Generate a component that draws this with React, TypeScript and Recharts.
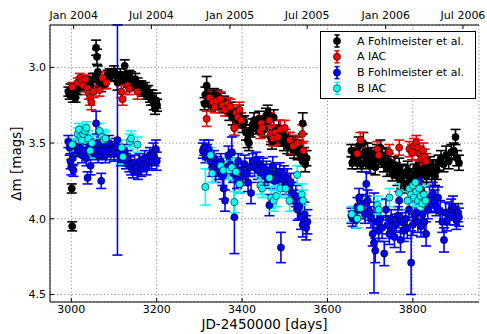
import React from 'react';
import { ScatterChart, Scatter, XAxis, YAxis, CartesianGrid, ErrorBar } from 'recharts';

type P = [number, number, number];

const aFohlmeister: P[] = [
  [2993, 3.16, 0.03], [2996, 3.18, 0.03], [2998, 3.15, 0.04], [3001, 3.80, 0.03], [3002, 4.05, 0.03],
  [3004, 3.19, 0.04], [3007, 3.17, 0.03], [3010, 3.20, 0.03], [3015, 3.14, 0.04], [3020, 3.12, 0.03],
  [3025, 3.10, 0.04], [3030, 3.13, 0.03], [3035, 3.09, 0.03], [3040, 3.11, 0.04], [3045, 3.12, 0.03],
  [3050, 3.08, 0.04], [3055, 3.07, 0.03], [3058, 2.87, 0.05], [3060, 2.93, 0.05], [3062, 3.03, 0.04],
  [3066, 3.10, 0.03], [3070, 3.12, 0.04], [3075, 3.09, 0.03], [3080, 3.11, 0.03], [3085, 3.05, 0.03],
  [3090, 3.04, 0.03], [3095, 3.05, 0.04], [3100, 3.03, 0.04], [3105, 3.06, 0.03], [3108, 3.10, 0.05],
  [3112, 3.07, 0.03], [3115, 3.05, 0.04], [3120, 3.08, 0.03], [3125, 2.99, 0.04], [3128, 3.06, 0.03],
  [3132, 3.09, 0.04], [3136, 3.05, 0.03], [3140, 3.08, 0.05], [3145, 3.10, 0.04], [3150, 3.08, 0.04],
  [3155, 3.11, 0.04], [3160, 3.13, 0.04], [3164, 3.12, 0.03], [3168, 3.15, 0.04], [3172, 3.14, 0.04],
  [3176, 3.17, 0.04], [3180, 3.16, 0.04], [3184, 3.19, 0.04], [3187, 3.21, 0.04], [3190, 3.20, 0.05],
  [3193, 3.24, 0.04], [3196, 3.27, 0.04], [3199, 3.22, 0.05], [3201, 3.25, 0.04],
  [3312, 3.24, 0.04], [3314, 3.18, 0.05], [3317, 3.12, 0.06], [3320, 3.22, 0.04], [3323, 3.19, 0.04],
  [3327, 3.25, 0.04], [3330, 3.20, 0.04], [3334, 3.18, 0.04], [3338, 3.22, 0.04], [3342, 3.19, 0.04],
  [3346, 3.24, 0.04], [3350, 3.21, 0.04], [3354, 3.26, 0.04], [3358, 3.23, 0.04], [3362, 3.25, 0.04],
  [3366, 3.28, 0.04], [3370, 3.30, 0.05], [3374, 3.27, 0.04], [3378, 3.33, 0.05], [3382, 3.40, 0.05],
  [3385, 3.31, 0.04], [3389, 3.35, 0.04], [3393, 3.30, 0.05], [3397, 3.34, 0.04], [3401, 3.38, 0.05],
  [3405, 3.36, 0.04], [3409, 3.43, 0.05], [3413, 3.48, 0.05], [3416, 3.50, 0.05], [3420, 3.42, 0.04],
  [3424, 3.38, 0.04], [3428, 3.35, 0.05], [3432, 3.40, 0.04], [3436, 3.37, 0.04], [3440, 3.34, 0.05],
  [3444, 3.39, 0.04], [3448, 3.36, 0.04], [3452, 3.41, 0.05], [3456, 3.32, 0.05], [3460, 3.30, 0.05],
  [3464, 3.34, 0.04], [3467, 3.46, 0.05], [3470, 3.49, 0.05], [3474, 3.33, 0.05], [3478, 3.42, 0.04],
  [3482, 3.45, 0.05], [3486, 3.40, 0.05], [3490, 3.47, 0.05], [3494, 3.44, 0.05], [3498, 3.50, 0.05],
  [3502, 3.46, 0.05], [3506, 3.52, 0.05], [3510, 3.48, 0.05], [3514, 3.53, 0.05], [3518, 3.50, 0.05],
  [3522, 3.55, 0.05], [3526, 3.51, 0.05], [3530, 3.56, 0.05], [3534, 3.53, 0.05], [3538, 3.60, 0.05],
  [3542, 3.37, 0.07], [3545, 3.58, 0.05], [3548, 3.64, 0.05], [3551, 3.60, 0.05],
  [3656, 3.55, 0.04], [3658, 3.63, 0.04], [3662, 3.60, 0.05], [3666, 3.56, 0.05], [3670, 3.62, 0.05],
  [3673, 3.52, 0.06], [3676, 3.58, 0.05], [3680, 3.64, 0.05], [3684, 3.50, 0.07], [3687, 3.56, 0.06],
  [3690, 3.62, 0.05], [3694, 3.55, 0.05], [3697, 3.60, 0.05], [3700, 3.65, 0.05], [3704, 3.58, 0.05],
  [3708, 3.62, 0.05], [3712, 3.66, 0.05], [3716, 3.56, 0.05], [3720, 3.61, 0.05], [3724, 3.53, 0.05],
  [3728, 3.59, 0.05], [3732, 3.64, 0.05], [3736, 3.58, 0.05], [3740, 3.67, 0.05], [3744, 3.62, 0.05],
  [3748, 3.66, 0.05], [3752, 3.70, 0.05], [3756, 3.64, 0.05], [3760, 3.68, 0.05], [3764, 3.72, 0.06],
  [3768, 3.66, 0.06], [3772, 3.74, 0.06], [3776, 3.70, 0.06], [3780, 3.77, 0.06], [3784, 3.71, 0.06],
  [3788, 3.68, 0.06], [3792, 3.75, 0.06], [3796, 3.73, 0.06], [3800, 3.79, 0.06], [3804, 3.70, 0.06],
  [3808, 3.66, 0.05], [3812, 3.72, 0.06], [3816, 3.68, 0.05], [3820, 3.81, 0.05], [3824, 3.70, 0.06],
  [3828, 3.66, 0.05], [3832, 3.72, 0.06], [3836, 3.68, 0.06], [3840, 3.64, 0.05], [3844, 3.70, 0.06],
  [3848, 3.66, 0.05], [3852, 3.72, 0.06], [3856, 3.68, 0.06], [3860, 3.63, 0.05], [3866, 3.60, 0.05],
  [3872, 3.64, 0.05], [3878, 3.58, 0.06], [3884, 3.62, 0.05], [3890, 3.56, 0.05], [3896, 3.55, 0.05],
  [3900, 3.46, 0.05], [3904, 3.60, 0.05], [3908, 3.63, 0.05],
];

const aIac: P[] = [
  [3002, 3.13, 0.03], [3015, 3.10, 0.03], [3020, 3.07, 0.03], [3025, 3.09, 0.03], [3028, 3.12, 0.04],
  [3033, 3.08, 0.03], [3038, 3.14, 0.04], [3041, 3.17, 0.04], [3044, 3.20, 0.05], [3047, 3.23, 0.05],
  [3052, 3.16, 0.04], [3066, 3.15, 0.04], [3073, 3.07, 0.04], [3082, 3.10, 0.04], [3117, 3.16, 0.04],
  [3120, 3.21, 0.04], [3132, 3.12, 0.04], [3136, 3.14, 0.04], [3155, 3.16, 0.05],
  [3317, 3.34, 0.05], [3324, 3.20, 0.04], [3331, 3.23, 0.04], [3336, 3.26, 0.04], [3341, 3.22, 0.04],
  [3349, 3.21, 0.05], [3354, 3.25, 0.04], [3360, 3.28, 0.04], [3366, 3.24, 0.04], [3372, 3.26, 0.05],
  [3382, 3.40, 0.05], [3386, 3.30, 0.05], [3390, 3.33, 0.05], [3394, 3.28, 0.05], [3398, 3.35, 0.05],
  [3443, 3.42, 0.05], [3445, 3.37, 0.05], [3447, 3.40, 0.05], [3464, 3.35, 0.05], [3468, 3.44, 0.05],
  [3473, 3.47, 0.05], [3478, 3.43, 0.05], [3484, 3.46, 0.05], [3490, 3.41, 0.06], [3500, 3.40, 0.05],
  [3512, 3.48, 0.05], [3520, 3.52, 0.05], [3530, 3.50, 0.05], [3541, 3.44, 0.06], [3544, 3.55, 0.06],
  [3670, 3.57, 0.04], [3677, 3.48, 0.05], [3717, 3.54, 0.05], [3720, 3.58, 0.05], [3745, 3.56, 0.05],
  [3768, 3.53, 0.05], [3792, 3.54, 0.05], [3798, 3.56, 0.05], [3803, 3.52, 0.05], [3808, 3.50, 0.05],
  [3812, 3.53, 0.05], [3816, 3.57, 0.05], [3820, 3.60, 0.05], [3824, 3.55, 0.05], [3828, 3.59, 0.05],
  [3831, 3.62, 0.05],
];

const bFohlmeister: P[] = [
  [2993, 3.49, 0.04], [2996, 3.53, 0.05], [2998, 3.62, 0.05], [3000, 3.66, 0.05], [3003, 3.60, 0.05],
  [3005, 3.68, 0.04], [3010, 3.52, 0.04], [3015, 3.55, 0.04], [3020, 3.53, 0.05], [3025, 3.58, 0.05],
  [3030, 3.55, 0.04], [3035, 3.60, 0.05], [3038, 3.73, 0.04], [3042, 3.52, 0.05], [3045, 3.65, 0.06],
  [3050, 3.56, 0.05], [3055, 3.54, 0.05], [3058, 3.37, 0.08], [3060, 3.50, 0.06], [3063, 3.58, 0.05],
  [3066, 3.55, 0.05], [3070, 3.75, 0.05], [3072, 3.55, 0.06], [3076, 3.52, 0.05], [3080, 3.58, 0.05],
  [3084, 3.55, 0.04], [3088, 3.50, 0.05], [3092, 3.56, 0.05], [3096, 3.54, 0.05], [3100, 3.57, 0.05],
  [3104, 3.52, 0.05], [3108, 3.48, 0.76], [3112, 3.56, 0.05], [3116, 3.60, 0.05], [3120, 3.58, 0.05],
  [3124, 3.55, 0.04], [3128, 3.62, 0.05], [3132, 3.60, 0.05], [3136, 3.64, 0.05], [3140, 3.66, 0.05],
  [3144, 3.68, 0.05], [3148, 3.63, 0.05], [3152, 3.66, 0.05], [3156, 3.69, 0.05], [3160, 3.62, 0.05],
  [3164, 3.67, 0.05], [3168, 3.64, 0.05], [3172, 3.60, 0.05], [3176, 3.66, 0.05], [3180, 3.63, 0.05],
  [3184, 3.58, 0.05], [3188, 3.62, 0.05], [3192, 3.56, 0.06], [3195, 3.60, 0.05], [3198, 3.54, 0.06],
  [3200, 3.62, 0.06],
  [3308, 3.55, 0.05], [3311, 3.53, 0.05], [3314, 3.58, 0.05], [3318, 3.56, 0.05], [3322, 3.54, 0.06],
  [3326, 3.62, 0.05], [3330, 3.66, 0.06], [3334, 3.60, 0.05], [3338, 3.70, 0.06], [3342, 3.64, 0.05],
  [3346, 3.68, 0.06], [3350, 3.62, 0.05], [3354, 3.72, 0.06], [3357, 3.80, 0.07], [3360, 3.88, 0.07],
  [3364, 3.66, 0.06], [3368, 3.58, 0.06], [3372, 3.64, 0.06], [3376, 3.56, 0.10], [3379, 3.70, 0.06],
  [3382, 3.99, 0.24], [3385, 3.66, 0.06], [3388, 3.74, 0.06], [3391, 3.62, 0.05], [3394, 3.77, 0.06],
  [3398, 3.68, 0.06], [3402, 3.72, 0.06], [3406, 3.64, 0.06], [3410, 3.70, 0.06], [3414, 3.76, 0.06],
  [3418, 3.66, 0.06], [3421, 3.83, 0.07], [3425, 3.62, 0.05], [3429, 3.66, 0.06], [3433, 3.61, 0.05],
  [3437, 3.68, 0.06], [3441, 3.64, 0.05], [3445, 3.70, 0.06], [3449, 3.66, 0.06], [3453, 3.72, 0.06],
  [3457, 3.68, 0.06], [3461, 3.74, 0.06], [3464, 3.91, 0.07], [3468, 3.70, 0.06], [3472, 3.65, 0.06],
  [3476, 3.75, 0.06], [3480, 3.70, 0.06], [3484, 3.73, 0.06], [3488, 3.69, 0.06], [3491, 4.19, 0.10],
  [3494, 3.74, 0.06], [3498, 3.71, 0.06], [3502, 3.78, 0.06], [3506, 3.73, 0.06], [3510, 3.80, 0.06],
  [3514, 3.76, 0.06], [3518, 3.83, 0.07], [3522, 3.88, 0.07], [3526, 3.85, 0.07], [3530, 3.94, 0.07],
  [3534, 3.92, 0.08], [3538, 3.99, 0.08], [3542, 4.04, 0.08], [3546, 3.97, 0.08], [3550, 4.06, 0.08],
  [3553, 4.02, 0.08],
  [3656, 3.98, 0.05], [3659, 4.00, 0.05], [3663, 3.97, 0.05], [3667, 4.01, 0.05], [3670, 3.92, 0.06],
  [3674, 3.86, 0.06], [3678, 3.94, 0.06], [3682, 3.90, 0.06], [3688, 3.97, 0.06], [3691, 3.77, 0.08],
  [3694, 3.88, 0.07], [3698, 3.95, 0.06], [3702, 3.99, 0.07], [3706, 4.10, 0.08], [3709, 4.16, 0.33],
  [3712, 4.21, 0.08], [3716, 4.02, 0.06], [3720, 4.08, 0.07], [3724, 4.00, 0.06], [3728, 4.06, 0.07],
  [3733, 4.23, 0.08], [3737, 3.94, 0.07], [3741, 4.04, 0.06], [3745, 4.10, 0.07], [3749, 4.00, 0.06],
  [3753, 4.06, 0.07], [3757, 4.12, 0.07], [3761, 4.03, 0.06], [3765, 3.98, 0.06], [3768, 3.88, 0.06],
  [3771, 4.14, 0.08], [3775, 4.02, 0.06], [3779, 4.08, 0.07], [3783, 4.00, 0.06], [3787, 4.06, 0.07],
  [3791, 3.94, 0.07], [3796, 4.29, 0.21], [3800, 4.04, 0.07], [3804, 3.98, 0.06], [3808, 3.96, 0.07],
  [3812, 4.02, 0.07], [3815, 3.75, 0.08], [3819, 4.05, 0.07], [3823, 3.97, 0.06], [3827, 4.02, 0.07],
  [3831, 4.10, 0.08], [3835, 3.94, 0.06], [3839, 3.86, 0.07], [3843, 3.90, 0.06], [3847, 3.83, 0.07],
  [3851, 3.88, 0.07], [3855, 3.92, 0.06], [3859, 3.86, 0.07], [3864, 3.95, 0.07], [3869, 4.02, 0.07],
  [3873, 4.14, 0.08], [3877, 3.96, 0.07], [3880, 4.01, 0.07], [3885, 3.97, 0.07], [3890, 3.94, 0.07],
  [3894, 3.92, 0.07], [3898, 3.98, 0.06], [3902, 4.01, 0.06], [3906, 3.96, 0.06], [3908, 3.99, 0.06],
];

const bIac: P[] = [
  [3002, 3.51, 0.04], [3015, 3.44, 0.04], [3018, 3.41, 0.04], [3022, 3.46, 0.04], [3025, 3.48, 0.04],
  [3028, 3.44, 0.05], [3032, 3.42, 0.04], [3035, 3.40, 0.04], [3040, 3.47, 0.05], [3044, 3.55, 0.05],
  [3048, 3.50, 0.05], [3066, 3.42, 0.05], [3072, 3.46, 0.05], [3076, 3.48, 0.05], [3080, 3.47, 0.05],
  [3118, 3.53, 0.05], [3121, 3.59, 0.05], [3137, 3.49, 0.05], [3140, 3.47, 0.05], [3155, 3.51, 0.05],
  [3314, 3.79, 0.12], [3326, 3.58, 0.05], [3330, 3.70, 0.06], [3350, 3.65, 0.05], [3356, 3.68, 0.05],
  [3370, 3.68, 0.06], [3376, 3.66, 0.06], [3382, 3.89, 0.07], [3386, 3.69, 0.06], [3394, 3.77, 0.06],
  [3443, 3.78, 0.06], [3447, 3.80, 0.06], [3464, 3.73, 0.06], [3468, 3.86, 0.07], [3474, 3.88, 0.07],
  [3480, 3.85, 0.07], [3490, 3.80, 0.06], [3502, 3.80, 0.06], [3511, 3.88, 0.07], [3529, 3.71, 0.06],
  [3540, 3.84, 0.07], [3543, 3.88, 0.07],
  [3657, 3.97, 0.05], [3670, 4.00, 0.06], [3677, 3.93, 0.06], [3717, 3.91, 0.06], [3720, 3.94, 0.06],
  [3745, 3.86, 0.06], [3768, 3.83, 0.06], [3788, 3.88, 0.06], [3792, 3.80, 0.06], [3796, 3.84, 0.06],
  [3800, 3.78, 0.06], [3803, 3.86, 0.06], [3806, 3.76, 0.06], [3808, 3.82, 0.06], [3812, 3.88, 0.06],
  [3815, 3.80, 0.06], [3818, 3.85, 0.06], [3822, 3.90, 0.06], [3826, 3.84, 0.06], [3830, 3.88, 0.06],
];

const seriesNames = ['A Fohlmeister et al.', 'A IAC', 'B Fohlmeister et al.', 'B IAC'];
const seriesColors = ['#000000', '#ff0000', '#0000ff', '#00ffff'];
const bottomTicks = [3000, 3200, 3400, 3600, 3800];
const yTicks = [3.0, 3.5, 4.0, 4.5];
const topTicks = [3005.5, 3187.5, 3371.5, 3552.5, 3736.5, 3917.5];
const topLabels = ['Jan 2004', 'Jul 2004', 'Jan 2005', 'Jul 2005', 'Jan 2006', 'Jul 2006'];

const FONT = 'DejaVu Sans, Verdana, sans-serif';
const toRows = (pts: P[]) => pts.map(([x, y, err]) => ({ x, y, err }));
const seriesData = [aFohlmeister, aIac, bFohlmeister, bIac].map(toRows);

const makeShape = (fill: string) => (props: any) => (
  <circle cx={props.cx} cy={props.cy} r={3.6} fill={fill} stroke="#000" strokeWidth={0.6} />
);

const tickStyle = { fontSize: 11, fontFamily: FONT, fill: '#000' };
const tickLineStyle = { stroke: '#000', strokeWidth: 1 };

export default function App() {
  return (
    <div style={{ position: 'absolute', left: 0, top: 0, width: 487, height: 334, background: '#fff' }}>
      <ScatterChart width={487} height={334} margin={{ top: 0, right: 8, bottom: 0, left: 0 }}>
        <CartesianGrid stroke="#888" strokeDasharray="1.2 2.4" strokeWidth={1} />
        <XAxis
          dataKey="x"
          type="number"
          domain={[2950, 3955]}
          ticks={bottomTicks}
          height={32}
          tickLine={tickLineStyle}
          tickSize={-4}
          tickMargin={7}
          tick={tickStyle}
          axisLine={{ stroke: '#000' }}
          allowDataOverflow
          label={{
            content: () => (
              <text x={264.5} y={329} textAnchor="middle" fontSize={13.5} fontFamily={FONT} fill="#000">
                JD-2450000 [days]
              </text>
            ),
          }}
        />
        <XAxis
          xAxisId="top"
          dataKey="x"
          type="number"
          orientation="top"
          domain={[2950, 3955]}
          ticks={topTicks}
          tickFormatter={(v: number) => topLabels[topTicks.indexOf(v)] ?? ''}
          height={25}
          tickLine={tickLineStyle}
          tickSize={-4}
          tickMargin={10}
          tick={tickStyle}
          axisLine={{ stroke: '#000' }}
          allowDataOverflow
        />
        <YAxis
          dataKey="y"
          type="number"
          reversed
          domain={[2.72, 4.55]}
          ticks={yTicks}
          tickFormatter={(v: number) => v.toFixed(1)}
          width={50}
          tickLine={tickLineStyle}
          tickSize={-4}
          tickMargin={8}
          tick={tickStyle}
          axisLine={{ stroke: '#000' }}
          allowDataOverflow
          label={{
            content: () => (
              <text
                x={16}
                y={163.5}
                transform="rotate(-90 16 163.5)"
                textAnchor="middle"
                dominantBaseline="central"
                fontSize={13.5}
                fontFamily={FONT}
                fill="#000"
              >
                Δm [mags]
              </text>
            ),
          }}
        />
        <YAxis
          yAxisId="right"
          orientation="right"
          type="number"
          reversed
          domain={[2.72, 4.55]}
          ticks={yTicks}
          width={0}
          tick={false}
          tickLine={tickLineStyle}
          tickSize={-4}
          axisLine={{ stroke: '#000' }}
        />
        {seriesData.map((rows, i) => (
          <Scatter
            key={seriesNames[i]}
            name={seriesNames[i]}
            data={rows}
            dataKey="y"
            fill={seriesColors[i]}
            shape={makeShape(seriesColors[i])}
            isAnimationActive={false}
          >
            <ErrorBar dataKey="err" direction="y" stroke={seriesColors[i]} strokeWidth={1.6} width={5} />
          </Scatter>
        ))}
      </ScatterChart>
      <svg
        width={487}
        height={334}
        style={{ position: 'absolute', left: 0, top: 0, pointerEvents: 'none' }}
      >
        <rect x={320.5} y={31.5} width={155} height={67} fill="#fff" stroke="#000" strokeWidth={1} />
        {seriesNames.map((name, i) => {
          const cy = 41 + i * 15.8;
          return (
            <g key={name}>
              <line x1={337} x2={337} y1={cy - 6} y2={cy + 6} stroke={seriesColors[i]} strokeWidth={1.6} />
              <line x1={334.5} x2={339.5} y1={cy - 6} y2={cy - 6} stroke={seriesColors[i]} strokeWidth={1.6} />
              <line x1={334.5} x2={339.5} y1={cy + 6} y2={cy + 6} stroke={seriesColors[i]} strokeWidth={1.6} />
              <circle cx={337} cy={cy} r={3.6} fill={seriesColors[i]} stroke="#000" strokeWidth={0.6} />
              <text x={357} y={cy} dominantBaseline="central" fontSize={11} fontFamily={FONT} fill="#000">
                {name}
              </text>
            </g>
          );
        })}
      </svg>
    </div>
  );
}
